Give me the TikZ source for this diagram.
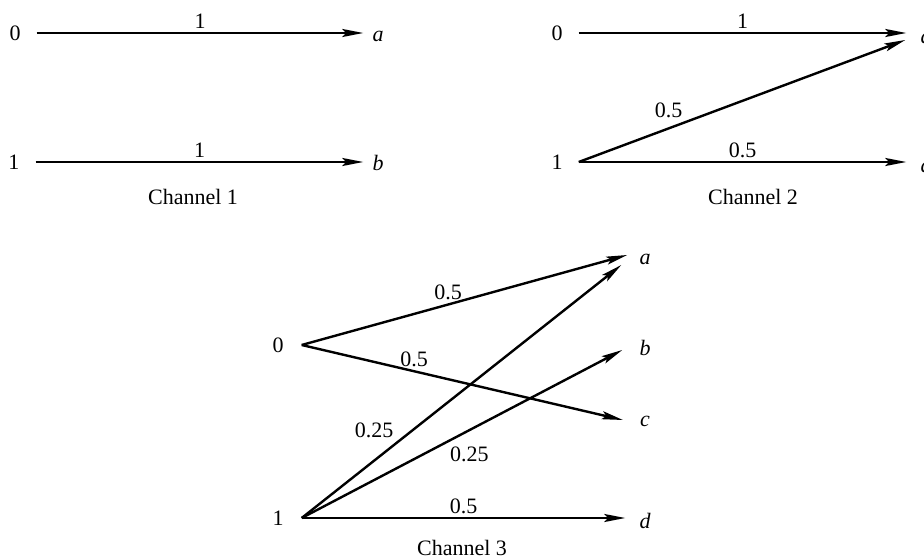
\documentclass[tikz,border=0pt]{standalone}
\usepackage{fontspec}
\setmainfont{Liberation Serif}
\usetikzlibrary{arrows.meta, positioning, calc}

\begin{document}
\begin{tikzpicture}[
        x=1pt, y=-1pt,
        chan/.style={line width=2.4pt, -{Stealth[length=21pt, width=8pt, inset=4pt]}},
        sym/.style={font=\fontsize{22}{22}\selectfont, inner sep=0pt},
        outsym/.style={font=\fontsize{22}{22}\selectfont\itshape, inner sep=0pt},
        wt/.style={font=\fontsize{22}{22}\selectfont, inner sep=3pt},
        caption/.style={font=\fontsize{22}{22}\selectfont}
    ]
    \useasboundingbox (0,0) rectangle (924,559);

    % Channel 1
    \node[sym] (c1in0) at (15,33) {0};
    \node[sym] (c1in1) at (14,162) {1};
    \node[outsym] (c1a) at (378,36) {a};
    \node[outsym] (c1b) at (378,163) {b};
    \node[caption] (c1cap) at (193,197) {Channel 1};

    \draw[chan] ([xshift=16pt]c1in0.east) -- node[wt, above] {1} ([xshift=-9pt,yshift=3pt]c1a.west);
    \draw[chan] ([xshift=16pt]c1in1.east) -- node[wt, above] {1} ([xshift=-9pt,yshift=1pt]c1b.west);

    % Channel 2
    \node[sym] (c2in0) at (557,33) {0};
    \node[sym] (c2in1) at (557,162) {1};
    \node[outsym] (c2a) at (926,38) {a};
    \node[outsym] (c2d) at (926,165) {d};
    \node[caption] (c2cap) at (753,197) {Channel 2};

    \draw[chan] ([xshift=16pt]c2in0.east) -- node[wt, above] {1} ([xshift=-14pt,yshift=5pt]c2a.west);
    \draw[chan] ([xshift=16pt]c2in1.east) -- node[wt, above left, pos=0.33] {0.5} ([xshift=-15pt,yshift=-2pt]c2a.west);
    \draw[chan] ([xshift=16pt]c2in1.east) -- node[wt, above] {0.5} ([xshift=-14pt,yshift=3pt]c2d.west);

    % Channel 3
    \node[sym] (c3in0) at (278,345) {0};
    \node[sym] (c3in1) at (278,518) {1};
    \node[outsym] (c3a) at (645,259) {a};
    \node[outsym] (c3b) at (645,348) {b};
    \node[outsym] (c3c) at (645,421) {c};
    \node[outsym] (c3d) at (645,521) {d};
    \node[caption] (c3cap) at (462,548) {Channel 3};

    \draw[chan] ([xshift=18pt]c3in0.east) -- node[wt, above, pos=0.45] {0.5} ([xshift=-12pt,yshift=4pt]c3a.west);
    \draw[chan] ([xshift=18pt]c3in0.east) -- node[wt, above, pos=0.35] {0.5} ([xshift=-17pt,yshift=1pt]c3c.west);
    \draw[chan] ([xshift=18pt]c3in1.east) -- node[wt, above left, pos=0.3] {0.25} ([xshift=-18pt,yshift=-6pt]c3a.west);
    \draw[chan] ([xshift=18pt]c3in1.east) -- node[wt, below right, pos=0.45] {0.25} ([xshift=-17pt,yshift=-2pt]c3b.west);
    \draw[chan] ([xshift=18pt]c3in1.east) -- node[wt, above] {0.5} ([xshift=-14pt,yshift=3pt]c3d.west);

\end{tikzpicture}
\end{document}
